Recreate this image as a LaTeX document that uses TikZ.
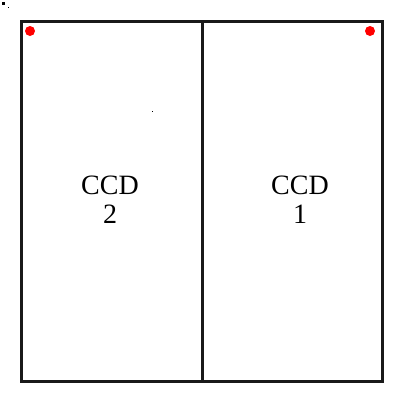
\documentclass[tikz,border=0pt]{standalone}
\usepackage{fontspec}
\setmainfont{Liberation Serif}
\begin{document}
\begin{tikzpicture}[x=1pt,y=-1pt,
  frame/.style={draw=black!90,line width=3pt,rectangle,inner sep=0pt,anchor=north west,minimum height=360pt},
  lab/.style={font=\fontsize{28}{29}\selectfont,align=center,inner sep=0pt,anchor=base},
  reddot/.style={fill=red,draw=none,circle,inner sep=0pt,minimum size=10pt}]
\useasboundingbox (0,0) rectangle (400,400);
\node[frame,minimum width=180.2pt] (left) at (20.3,20.3) {};
\node[frame,minimum width=180pt] (right) at (200.5,20.3) {};
\node[lab] (c2a) at (110,194) {CCD};
\node[lab] (c2b) at (110,223) {2};
\node[lab] (c1a) at (300,194) {CCD};
\node[lab] (c1b) at (300,223) {1};
\node[reddot] (d1) at (30,31) {};
\node[reddot] (d2) at (370,31) {};
\fill[black] (2,2) rectangle (5,5);
\fill[black] (7.5,6.5) rectangle (8.5,7.5);
\fill[black] (151.5,110.5) rectangle (152.5,111.5);
\end{tikzpicture}
\end{document}
